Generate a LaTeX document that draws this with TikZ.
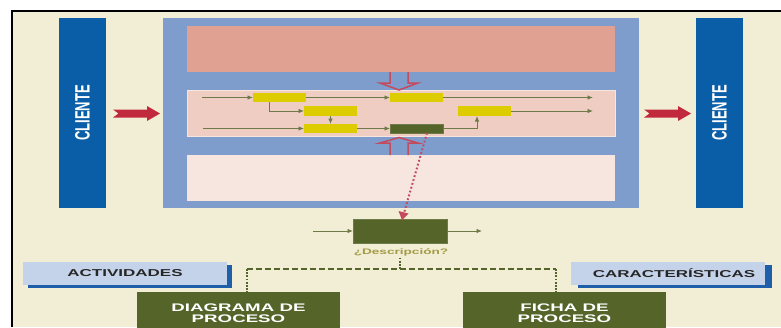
\documentclass[tikz,border=0pt]{standalone}
\usepackage{fontspec}
\setmainfont{Liberation Sans}
\usepackage{graphicx}
\usetikzlibrary{arrows.meta}
\definecolor{cream}{HTML}{F2EDD5}
\definecolor{cblue}{HTML}{0A5EA8}
\definecolor{panelblue}{HTML}{7E9DCC}
\definecolor{pinkA}{HTML}{E0A193}
\definecolor{pinkB}{HTML}{F0CDC3}
\definecolor{pinkC}{HTML}{F6E6DF}
\definecolor{ybox}{HTML}{DDCC00}
\definecolor{gbox}{HTML}{55652A}
\definecolor{gline}{HTML}{6E7A48}
\definecolor{redarr}{HTML}{C12A3C}
\definecolor{hollowred}{HTML}{C44A5E}
\definecolor{lblue}{HTML}{C5D3EA}
\definecolor{shblue}{HTML}{1F5FAA}
\definecolor{desccol}{HTML}{A39B45}
\definecolor{dotgreen}{HTML}{55652A}
\newcommand{\stretchtxt}[2]{\scalebox{#1}[1]{#2}}
\begin{document}
\begin{tikzpicture}[x=1pt,y=-1pt,
  rect/.style={inner sep=0pt, outer sep=0pt, anchor=north west},
  ybx/.style={rect, fill=ybox, minimum width=53pt},
  flow/.style={draw=gline, line width=0.9pt, -{Latex[length=5.5pt,width=4.5pt]}},
  hollow/.style={draw=hollowred, line width=1.5pt, line join=miter},
  bigarrow/.style={fill=redarr},
  labelbox/.style={rect, fill=lblue, minimum height=23pt, font=\bfseries\fontsize{10}{10}\selectfont, text=black!85},
  shadowbox/.style={rect, fill=shblue, minimum height=23pt},
  greenbox/.style={rect, fill=gbox, minimum width=203pt, minimum height=42pt, text=white, align=center, font=\bfseries\fontsize{11}{10.5}\selectfont},
  dotv/.style={draw=dotgreen, line width=2pt, dash pattern=on 1.8pt off 1.4pt},
  dashh/.style={draw=dotgreen, line width=1.5pt, dash pattern=on 6pt off 3pt},
  reddot/.style={draw=hollowred, line width=2pt, dash pattern=on 1.8pt off 2.2pt}
]
\useasboundingbox (0,0) rectangle (781,327);
\clip (0,0) rectangle (781,327);
\fill[white] (0,0) rectangle (781,327);
\fill[cream] (11,10) rectangle (781,327);
\draw[line width=2.5pt, black] (12.2,327) -- (12.2,11.2) -- (781,11.2);

% clients
\node[rect, fill=cblue, minimum width=47pt, minimum height=190pt, text=white] (cl1) at (59,18)
  {\stretchtxt{1.6}{\rotatebox{90}{\bfseries\fontsize{13}{13}\selectfont CLIENTE}}};
\node[rect, fill=cblue, minimum width=47pt, minimum height=190pt, text=white] (cl2) at (696,18)
  {\stretchtxt{1.6}{\rotatebox{90}{\bfseries\fontsize{13}{13}\selectfont CLIENTE}}};

% panel
\node[rect, fill=panelblue, minimum width=476pt, minimum height=190pt] (panel) at (163,18) {};
\node[rect, fill=pinkA, minimum width=428pt, minimum height=46pt] (top) at (187,26) {};
\node[rect, fill=pinkB, draw=pinkC, line width=0.6pt, minimum width=428pt, minimum height=46pt] (mid) at (187,90) {};
\node[rect, fill=pinkC, minimum width=428pt, minimum height=46pt] (bot) at (187,155) {};

% big red arrows
\fill[bigarrow] (113,109.5) -- (147,109.5) -- (147,106) -- (160,113.5) -- (147,121) -- (147,117.5) -- (113,117.5) -- (118.5,113.5) -- cycle;
\fill[bigarrow] (644,109.5) -- (678,109.5) -- (678,106) -- (691,113.5) -- (678,121) -- (678,117.5) -- (644,117.5) -- (649.5,113.5) -- cycle;

% hollow arrows
\draw[hollow] (390,72) -- (390,83) -- (380,83) -- (399,90) -- (418,83) -- (408,83) -- (408,72);
\draw[hollow] (390,155) -- (390,143) -- (380,143) -- (399,137.5) -- (418,143) -- (408,143) -- (408,155);

% small boxes
\node[ybx, minimum height=9pt] (A) at (253,93) {};
\node[ybx, minimum height=9pt] (B) at (390,93) {};
\node[ybx, minimum height=10pt] (C) at (304,106) {};
\node[ybx, minimum height=9pt] (D) at (304,124) {};
\node[rect, fill=gbox, draw=gline, line width=0.6pt, minimum width=53pt, minimum height=9pt] (E) at (390,124) {};
\node[ybx, minimum height=10pt] (F) at (458,106) {};

\coordinate (in1) at (202,97.5);
\coordinate (out1) at (593,97.5);
\coordinate (in3) at (203,128.5);
\coordinate (out2) at (593,111);
\coordinate (bendA) at (269,111);
\coordinate (bendE) at (477,128.5);

\draw[flow] (in1) -- (A.west);
\draw[flow] (A.east) -- (B.west);
\draw[flow] (B.east) -- (out1);
\draw[flow] (A.south -| bendA) -- (bendA) -- (C.west);
\draw[flow] (C.south) -- (D.north);
\draw[flow] (in3) -- (D.west);
\draw[flow] (D.east) -- (E.west);
\draw[flow] (E.east) -- (bendE) -- (bendE |- F.south);
\draw[flow] (F.east) -- (out2);

% detail box
\node[rect, fill=gbox, draw=gline, line width=0.6pt, minimum width=94pt, minimum height=24pt] (G) at (353,219) {};
\coordinate (gin) at (313,231);
\coordinate (gout) at (482,231);
\draw[flow] (gin) -- (G.west);
\draw[flow] (G.east) -- (gout);
\draw[reddot] (427,133) -- (404,213);
\fill[hollowred] (398.5,211) -- (408.5,213.5) -- (402,220) -- cycle;

\node[inner sep=0pt, text=desccol, font=\bfseries\fontsize{8}{8}\selectfont] (desc) at (401,252) {\stretchtxt{1.7}{¿Descripción?}};

% tree
\coordinate (j) at (400,269);
\coordinate (jl) at (247,269);
\coordinate (jr) at (556,269);
\draw[dotv] (400,257.5) -- (j);
\draw[dashh] (jl) -- (jr);

\node[shadowbox, minimum width=204pt] at (28,265) {};
\node[labelbox, minimum width=204pt] (act) at (23,262) {\stretchtxt{1.7}{ACTIVIDADES}};
\node[shadowbox, minimum width=194pt] at (578,265) {};
\node[labelbox, minimum width=194pt] (car) at (571,262) {\hspace*{12pt}\stretchtxt{1.7}{CARACTERÍSTICAS}};

\node[greenbox] (diag) at (137,292) {\stretchtxt{1.7}{DIAGRAMA DE}\\\stretchtxt{1.7}{PROCESO}};
\node[greenbox] (ficha) at (463,292) {\stretchtxt{1.7}{FICHA DE}\\\stretchtxt{1.7}{PROCESO}};

\draw[dotv] (jl) -- (jl |- diag.north);
\draw[dotv] (jr) -- (jr |- ficha.north);
\end{tikzpicture}
\end{document}
